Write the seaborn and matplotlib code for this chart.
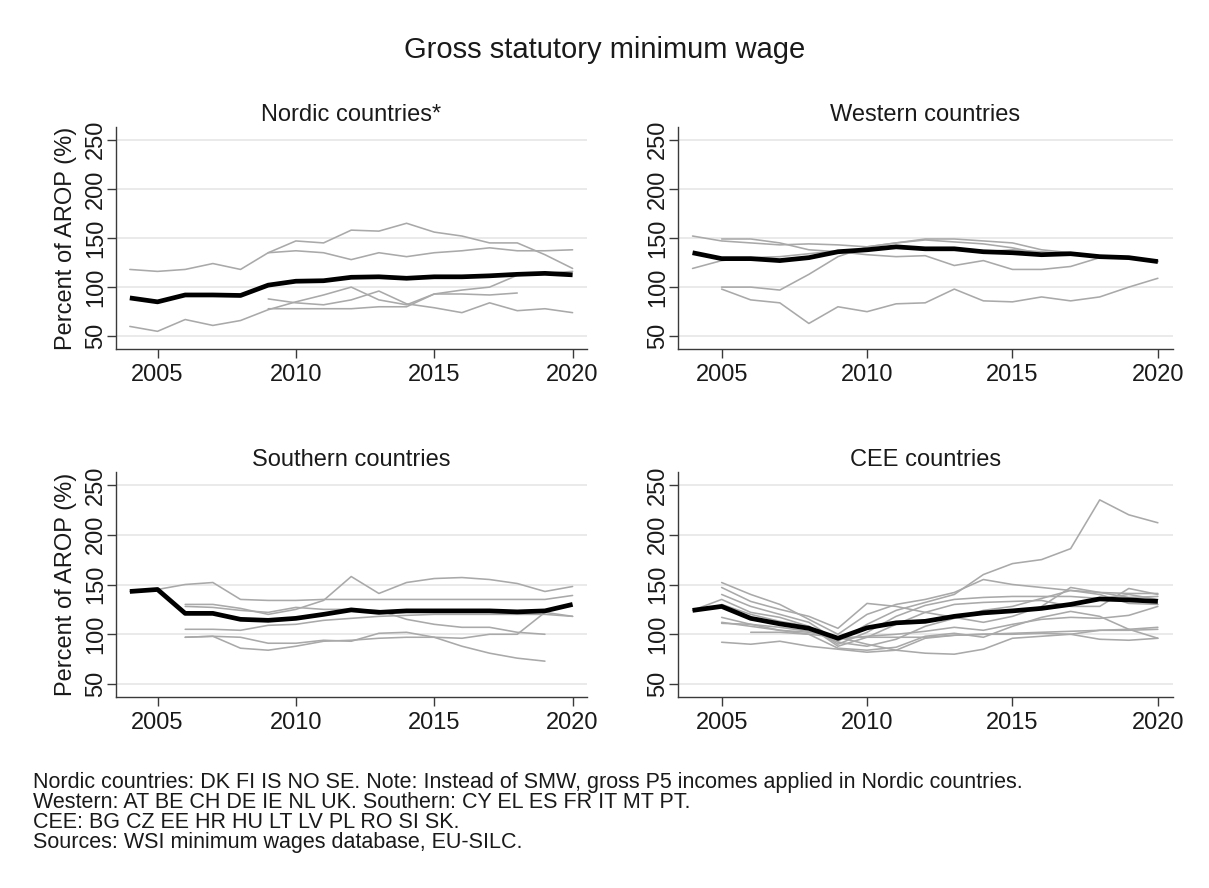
import matplotlib
matplotlib.use("Agg")
import matplotlib.pyplot as plt
import pandas as pd
import seaborn as sns

# ---------------- data ----------------
YEARS = list(range(2004, 2021))

# Nordic countries (gross P5 incomes); (start year, values)
NORDIC_MEAN = [89, 85, 92, 92, 91.5, 102, 106, 106.5, 110, 110.5, 109, 110.5, 110.5, 111.5, 113, 114, 112.5]
NORDIC_1 = (2004, [118, 116, 118, 124, 118, 135, 147, 145, 158, 157, 165, 156, 152, 145, 145, 133, 119])
NORDIC_2 = (2009, [135, 137, 135, 128, 135, 131, 135, 137, 140, 137, 137, 138])
NORDIC_3 = (2004, [60, 55, 67, 61, 66, 77, 85, 92, 100, 87, 82, 93, 97, 100, 112, 114, 116])
NORDIC_4 = (2009, [88, 84, 82, 87, 96, 83, 79, 74, 84, 76, 78, 74])
NORDIC_5 = (2009, [78, 78, 78, 78, 80, 80, 93, 93, 92, 94])

# Western countries
WESTERN_MEAN = [135, 129, 129, 127, 130, 136, 138, 141, 139, 139, 136, 135, 133, 134, 131, 130, 126]
WESTERN_1 = (2004, [152, 147, 145, 143, 144, 143, 141, 145, 149, 149, 147, 145, 138, 135, 132, 130, 126])
WESTERN_2 = (2004, [119, 127, 130, 131, 134, 137, 138, 140, 138, 138, 136, 138, 136, 134, 131, 130, 126])
WESTERN_3 = (2005, [149, 149, 145, 138, 136, 133, 131, 132, 122, 127, 118, 118, 121, 130, 130, 127])
WESTERN_4 = (2005, [100, 100, 97, 113, 131, 141, 145, 148, 146, 144, 140, 134, 134, 131, 130, 126])
WESTERN_5 = (2005, [98, 87, 84, 63, 80, 75, 83, 84, 98, 86, 85, 90, 86, 90, 100, 109])

# Southern countries
SOUTHERN_MEAN = [143, 145, 121, 121, 115, 114, 116, 120, 124.5, 122, 123.5, 123.5, 123.5, 123.5, 122.5, 123.5, 130]
SOUTHERN_1 = (2004, [143, 145, 150, 152, 135, 134, 134, 135, 135, 135, 135, 135, 135, 135, 135, 135, 139])
SOUTHERN_2 = (2006, [130, 130, 126, 120, 125, 134, 158, 141, 152, 156, 157, 155, 151, 143, 148])
SOUTHERN_3 = (2006, [128, 127, 124, 122, 127, 125, 125, 124, 115, 110, 107, 107, 102, 100])
SOUTHERN_4 = (2006, [105, 105, 104, 109, 110, 114, 116, 118, 119, 120, 120, 120, 120, 120, 118])
SOUTHERN_5 = (2006, [97, 98, 97, 91, 91, 94, 93, 101, 102, 97, 88, 81, 76, 73])
SOUTHERN_6 = (2006, [97, 98, 86, 84, 88, 93, 94, 96, 97, 97, 96, 100, 100, 122, 118])

# CEE countries
CEE_MEAN = [124, 128, 116, 110.5, 106, 96, 106.5, 111.5, 113, 118, 121.5, 123.5, 126, 130, 135.5, 134.5, 133]
CEE_1 = (2005, [140, 128, 120, 112, 93, 110, 124, 132, 140, 160, 171, 175, 186, 235, 220, 212])
CEE_2 = (2005, [152, 140, 130, 115, 100, 120, 130, 135, 142, 155, 150, 147, 144, 142, 141, 141])
CEE_3 = (2005, [147, 133, 125, 118, 106, 131, 128, 122, 117, 112, 118, 128, 147, 142, 137, 138])
CEE_4 = (2004, [124, 135, 122, 117, 108, 90, 102, 118, 129, 135, 137, 138, 138, 138, 136, 140, 135])
CEE_5 = (2005, [130, 120, 113, 108, 88, 97, 110, 122, 130, 132, 133, 134, 128, 128, 146, 140])
CEE_6 = (2005, [127, 117, 110, 106, 92, 88, 95, 108, 116, 124, 128, 136, 144, 140, 131, 130])
CEE_7 = (2005, [117, 110, 104, 100, 86, 84, 87, 98, 101, 97, 108, 117, 123, 118, 105, 96])
CEE_8 = (2005, [112, 108, 104, 102, 97, 90, 84, 81, 80, 85, 96, 98, 100, 104, 105, 107])
CEE_9 = (2005, [111, 110, 107, 103, 95, 98, 100, 103, 107, 104, 110, 115, 117, 116, 119, 128])
CEE_10 = (2006, [102, 102, 100, 97, 97, 97, 97, 99, 100, 101, 102, 103, 104, 104, 105])
CEE_11 = (2005, [92, 90, 93, 88, 85, 82, 84, 96, 99, 100, 100, 101, 100, 95, 94, 96])

PANEL_TITLES = ["Nordic countries*", "Western countries", "Southern countries", "CEE countries"]
MAIN_TITLE = "Gross statutory minimum wage"
Y_LABEL = "Percent of AROP (%)"
Y_TICKS = [50, 100, 150, 200, 250]
X_TICKS = [2005, 2010, 2015, 2020]
FOOTNOTES = [
    "Nordic countries: DK FI IS NO SE. Note: Instead of SMW, gross P5 incomes applied in Nordic countries.",
    "Western: AT BE CH DE IE NL UK. Southern: CY EL ES FR IT MT PT.",
    "CEE: BG CZ EE HR HU LT LV PL RO SI SK.",
    "Sources: WSI minimum wages database, EU-SILC.",
]

PANELS = [
    (NORDIC_MEAN, [NORDIC_1, NORDIC_2, NORDIC_3, NORDIC_4, NORDIC_5]),
    (WESTERN_MEAN, [WESTERN_1, WESTERN_2, WESTERN_3, WESTERN_4, WESTERN_5]),
    (SOUTHERN_MEAN, [SOUTHERN_1, SOUTHERN_2, SOUTHERN_3, SOUTHERN_4, SOUTHERN_5, SOUTHERN_6]),
    (CEE_MEAN, [CEE_1, CEE_2, CEE_3, CEE_4, CEE_5, CEE_6, CEE_7, CEE_8, CEE_9, CEE_10, CEE_11]),
]


def long_frame(series_list):
    rows = []
    for i, (start, vals) in enumerate(series_list):
        for k, v in enumerate(vals):
            rows.append({"country": i, "year": start + k, "value": v})
    return pd.DataFrame(rows)


# ---------------- style ----------------
sns.set_theme(style="white")
plt.rcParams["font.family"] = ["Liberation Sans", "DejaVu Sans"]

W, H = 1209, 888
fig = plt.figure(figsize=(W / 100, H / 100), dpi=100)
fig.patch.set_facecolor("white")

# axes boxes in pixels: left, right, top, bottom
BOXES = [
    (116, 587, 127, 349),
    (678, 1173, 127, 349),
    (116, 587, 472, 697),
    (678, 1173, 472, 697),
]

GRAY = "#a9a9a9"
AXC = "#3a3a3a"

for idx, ((mean_vals, series), box) in enumerate(zip(PANELS, BOXES)):
    l, r, t, b = box
    ax = fig.add_axes([l / W, 1 - b / H, (r - l) / W, (b - t) / H])
    ax.set_facecolor("white")
    ax.set_axisbelow(True)

    df = long_frame(series)
    sns.lineplot(data=df, x="year", y="value", units="country", estimator=None,
                 color=GRAY, linewidth=1.15, ax=ax, legend=False)
    sns.lineplot(x=YEARS, y=mean_vals, color="black", linewidth=3.4, ax=ax,
                 legend=False, solid_capstyle="butt")

    ax.set_xlim(2003.5, 2020.52)
    ax.set_ylim(37, 263)
    ax.set_xticks(X_TICKS)
    ax.set_yticks(Y_TICKS)
    ax.yaxis.grid(True, color="#e8e8e8", linewidth=1.3)
    ax.xaxis.grid(False)
    for s in ["top", "right"]:
        ax.spines[s].set_visible(False)
    for s in ["left", "bottom"]:
        ax.spines[s].set_color(AXC)
        ax.spines[s].set_linewidth(1.0)
    ax.tick_params(axis="both", which="major", direction="out", length=6.5,
                   width=1.0, color=AXC, labelsize=17, labelcolor="#1a1a1a",
                   left=True, bottom=True)
    ax.tick_params(axis="x", pad=4)
    ax.tick_params(axis="y", pad=0, labelrotation=90)
    for lab in ax.get_yticklabels():
        lab.set_va("center")
    ax.set_xlabel("")
    if idx % 2 == 0:
        ax.set_ylabel(Y_LABEL, fontsize=17, color="#1a1a1a")
        ax.yaxis.set_label_coords(-0.082, 0.5)
    else:
        ax.set_ylabel("")
    ax.set_title(PANEL_TITLES[idx], fontsize=17, color="#1a1a1a", pad=4)

fig.text(0.5, 1 - 50 / H, MAIN_TITLE, ha="center", va="center", fontsize=21, color="#1a1a1a")

for i, line in enumerate(FOOTNOTES):
    fig.text(33 / W, 1 - (788 + 20.0 * i) / H, line, ha="left", va="baseline",
             fontsize=15.5, color="#1a1a1a")

fig.savefig("out.png", dpi=100, facecolor="white")
